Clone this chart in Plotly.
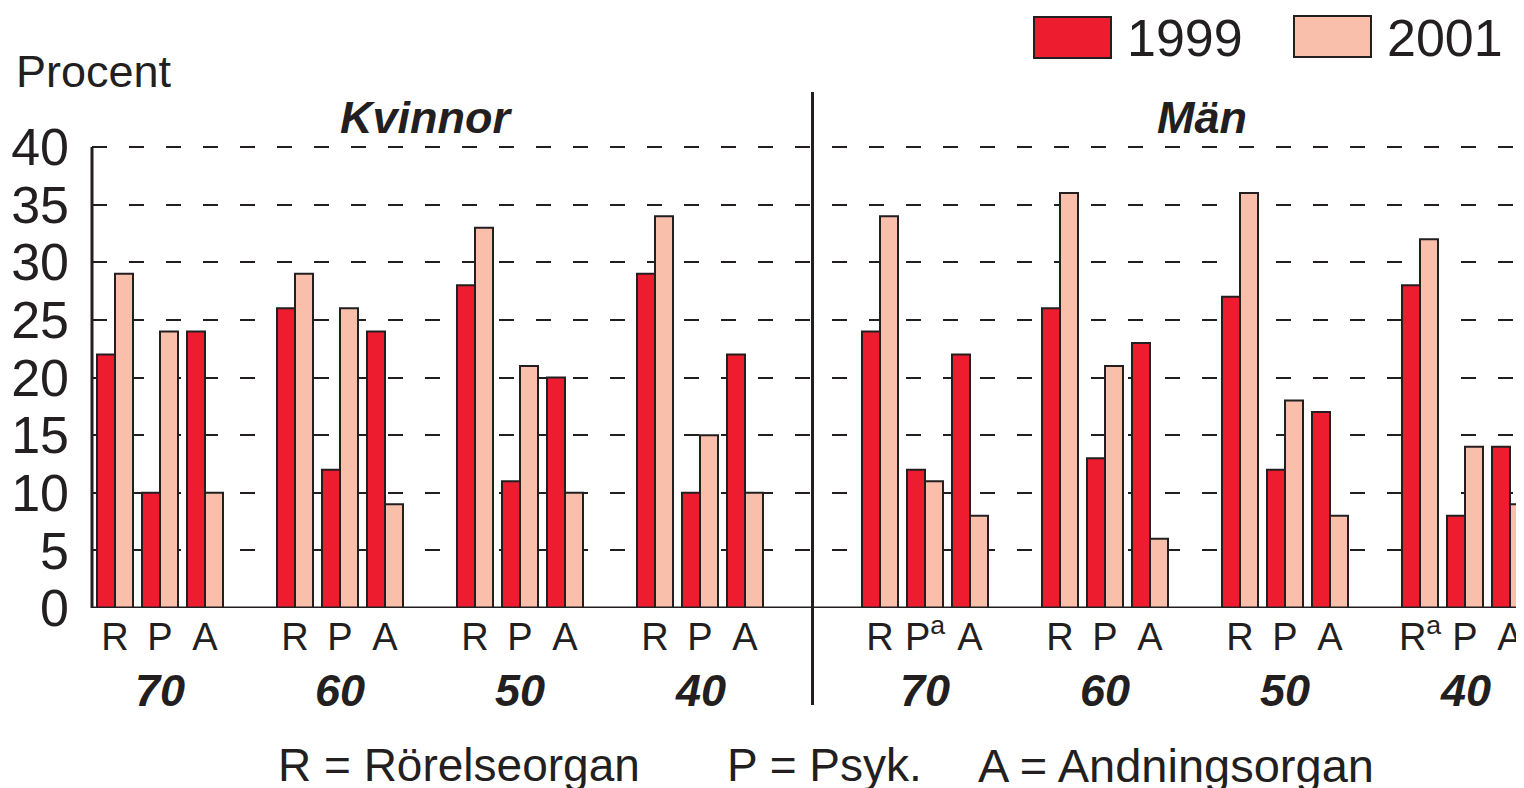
"""Sjukskrivning per diagnos, kön och åldersgrupp — 1999 mot 2001."""

import plotly.graph_objects as go

# Data
age_groups = ["70", "60", "50", "40"]
diagnoses = ["R", "P", "A"]

kvinnor_1999 = [22, 10, 24, 26, 12, 24, 28, 11, 20, 29, 10, 22]
kvinnor_2001 = [29, 24, 10, 29, 26, 9, 33, 21, 10, 34, 15, 10]
man_1999 = [24, 12, 22, 26, 13, 23, 27, 12, 17, 28, 8, 14]
man_2001 = [34, 11, 8, 36, 21, 6, 36, 18, 8, 32, 14, 9]

# labels that carry the footnote mark "a" (Män 70 P, Män 40 R)
man_ticktext = ["R", "P<sup>a</sup>", "A", "R", "P", "A",
                "R", "P", "A", "R<sup>a</sup>", "P", "A"]

RED = "#ED1C2E"
PEACH = "#F9BFAB"
INK = "#231F20"
FONT = "Liberation Sans, Arial, Helvetica, sans-serif"

# the page body has an 8px margin, so the figure sits 8px in from the window corner
OFF = 8
W, H = 1524 - OFF, 788 - OFF
L, R, T = 92 - OFF, 0, 92 - OFF
B = H - (608 - OFF)

# slot positions: each pair of bars takes one slot, one empty slot between age groups
kv_starts = [0, 4, 8, 12]
man_starts = [17, 21, 25, 29]
group_starts = kv_starts + man_starts
slots = [g + d for g in group_starts for d in range(len(diagnoses))]

vals_1999 = kvinnor_1999 + man_1999
vals_2001 = kvinnor_2001 + man_2001
ticktext = diagnoses * len(age_groups) + man_ticktext

XMIN, XMAX = -0.111, 31.711
YMAX = 40 * (H - T - B) / 461.0


def px_x(px):
    """window pixel -> paper x"""
    return (px - OFF - L) / (W - L - R)


def px_y(py):
    """window pixel -> paper y"""
    return (H - B - (py - OFF)) / (H - T - B)


fig = go.Figure()
fig.add_trace(go.Bar(
    x=[s + 0.2 for s in slots], y=vals_1999, width=0.4, name="1999",
    marker=dict(color=RED, line=dict(color=INK, width=2)),
))
fig.add_trace(go.Bar(
    x=[s + 0.6 for s in slots], y=vals_2001, width=0.4, name="2001",
    marker=dict(color=PEACH, line=dict(color=INK, width=2)),
))

div_x = (15.9 - XMIN) / (XMAX - XMIN)
shapes = [
    # baseline
    dict(type="line", xref="paper", yref="y", x0=0, x1=1, y0=0, y1=0,
         line=dict(color=INK, width=3)),
    # left axis line
    dict(type="line", xref="paper", yref="y", x0=0, x1=0, y0=0, y1=40,
         line=dict(color=INK, width=3)),
    # divider between Kvinnor and Män
    dict(type="line", xref="paper", yref="paper", x0=div_x, x1=div_x,
         y0=px_y(705), y1=1, line=dict(color=INK, width=3)),
    # legend swatches
    dict(type="rect", xref="paper", yref="paper", x0=px_x(1034), x1=px_x(1111),
         y0=px_y(58), y1=px_y(17), fillcolor=RED, line=dict(color=INK, width=2)),
    dict(type="rect", xref="paper", yref="paper", x0=px_x(1294), x1=px_x(1371),
         y0=px_y(57), y1=px_y(16), fillcolor=PEACH, line=dict(color=INK, width=2)),
]

annotations = []
# age group labels under the middle pair
for i, start in enumerate(group_starts):
    label = age_groups[i % len(age_groups)]
    annotations.append(dict(
        x=start + 1.4, y=px_y(690), xref="x", yref="paper", text=f"<b><i>{label}</i></b>",
        showarrow=False, font=dict(size=45, color=INK), xanchor="center", yanchor="middle",
    ))


def text_at(x, y, text, size, anchor="center"):
    return dict(x=px_x(x), y=px_y(y), xref="paper", yref="paper", text=text,
                showarrow=False, font=dict(size=size, color=INK),
                xanchor=anchor, yanchor="middle")


annotations += [
    text_at(426, 118, "<b><i>Kvinnor</i></b>", 45),
    text_at(1202, 118, "<b><i>Män</i></b>", 45),
    text_at(14, 72, "Procent", 45, "left"),
    text_at(1125, 38, "1999", 52, "left"),
    text_at(1385, 38, "2001", 52, "left"),
    text_at(276, 765, "R = Rörelseorgan", 46, "left"),
    text_at(725, 765, "P = Psyk.", 46, "left"),
    text_at(976, 765, "A = Andningsorgan", 47, "left"),
]

fig.update_layout(
    width=W, height=H,
    # no autoexpand: the last tick label and bar run off the right edge, as in the source
    margin=dict(l=L, r=R, t=T, b=B, autoexpand=False),
    plot_bgcolor="white", paper_bgcolor="white",
    font=dict(family=FONT, color=INK),
    barmode="overlay",
    showlegend=False,
    shapes=shapes,
    annotations=annotations,
    xaxis=dict(
        range=[XMIN, XMAX], showgrid=False, zeroline=False, showline=False,
        tickmode="array", tickvals=[s + 0.4 for s in slots], ticktext=ticktext,
        tickfont=dict(size=38, color=INK), ticks="", ticklabelstandoff=3,
    ),
    yaxis=dict(
        range=[0, YMAX], tickmode="array", tickvals=list(range(0, 45, 5)),
        showgrid=True, gridcolor=INK, gridwidth=2, griddash="15px,22px",
        zeroline=False, showline=False, ticks="",
        tickfont=dict(size=52, color=INK), ticklabelstandoff=22,
    ),
)

fig.write_html("out.html")
